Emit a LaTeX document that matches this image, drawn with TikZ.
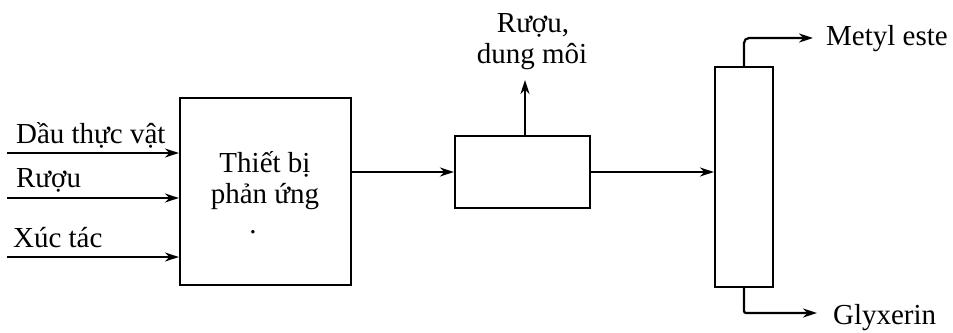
\documentclass[tikz,border=0pt]{standalone}
\usepackage{fontspec}
\setmainfont{Liberation Serif}
\usetikzlibrary{arrows.meta}
\begin{document}
\begin{tikzpicture}[x=1pt,y=-1pt,
  line width=2.2pt,
  arr/.style={-{Stealth[length=14pt,width=9pt]}},
  box/.style={draw,rectangle,inner sep=0pt},
  lbl/.style={inner sep=0pt,anchor=base west,font=\fontsize{29}{33}\selectfont},
  clbl/.style={inner sep=0pt,anchor=base,font=\fontsize{29}{33}\selectfont}]
\useasboundingbox (0,0) rectangle (953,332);
% units
\node[box,minimum width=171pt,minimum height=187pt] (reactor) at (265.5,191.5) {};
\node[box,minimum width=135pt,minimum height=72pt] (sep) at (522.5,172) {};
\node[box,minimum width=58pt,minimum height=220pt] (col) at (744,177) {};
% inner text
\node[clbl] (t1) at (265,172) {Thiết bị};
\node[clbl] (t2) at (265,203) {phản ứng};
\node[clbl] (t3) at (253,233) {.};
% inputs
\coordinate (in1) at (7,153);
\coordinate (in2) at (7,198);
\coordinate (in3) at (7,257);
\node[lbl] (l1) at (15,143) {Dầu thực vật};
\node[lbl] (l2) at (15,187) {Rượu};
\node[lbl] (l3) at (12,247) {Xúc tác};
\draw[arr] (in1) -- (in1 -| reactor.west);
\draw[arr] (in2) -- (in2 -| reactor.west);
\draw[arr] (in3) -- (in3 -| reactor.west);
% reactor -> sep
\draw[arr] (reactor.east |- sep.west) -- (sep.west);
% sep up
\coordinate (up) at (525,80);
\draw[arr] (up |- sep.north) -- (up);
\node[clbl] (r1) at (533,32) {Rượu,};
\node[clbl] (r2) at (532,63) {dung môi};
% sep -> column
\draw[arr] (sep.east) -- (sep.east -| col.west);
% outputs
\coordinate (o1) at (813,38);
\coordinate (o2) at (817,313);
\draw[arr,rounded corners=5pt] (col.north) |- (o1);
\draw[arr,rounded corners=2pt] (col.south) |- (o2);
\node[lbl] (m) at (825,45) {Metyl este};
\node[lbl] (g) at (832,324) {Glyxerin};
\end{tikzpicture}
\end{document}
